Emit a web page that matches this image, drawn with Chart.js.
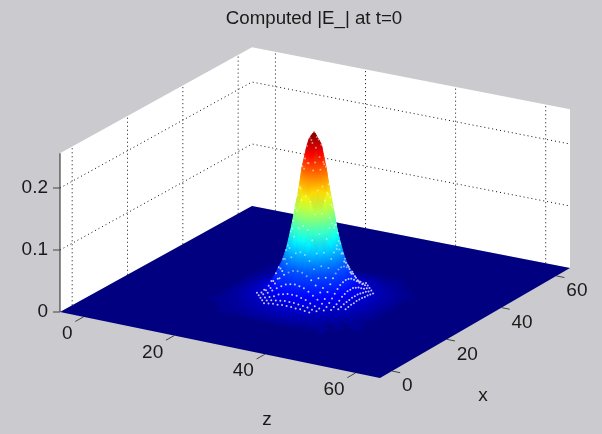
<!DOCTYPE html>
<html>
<head>
<meta charset="utf-8">
<script src="https://cdn.jsdelivr.net/npm/chart.js@4"></script>
<style>
  body { margin: 0; background: #cbcbcf; }
  canvas { display: block; filter: blur(0.4px); }
</style>
</head>
<body>
<canvas id="chart" width="602" height="434"></canvas>
<script>
const zTicks = [0, 20, 40, 60];
const xTicks = [0, 20, 40, 60];
const eTicks = [0, 0.1, 0.2];
const tickLabelsE = ["0", "0.1", "0.2"];

// peak position and |E|, one quadrant (the bump looks symmetric)
const peakX = 27.5;
const peakZ = 31.5;
const offsets = [0, 1, 2, 3, 4, 5, 6, 7, 8, 9, 10, 12, 14, 17];
const quadrant = [
  [.266, .255, .220, .170, .124, .084, .056, .037, .023, .014, .010, .005, .002, 0],
  [.255, .244, .210, .162, .119, .081, .055, .036, .023, .014, .010, .005, .002, 0],
  [.220, .210, .179, .143, .104, .073, .051, .034, .021, .013, .009, .005, .002, 0],
  [.170, .162, .143, .113, .084, .061, .046, .030, .019, .012, .009, .004, .002, 0],
  [.124, .119, .104, .084, .065, .048, .039, .025, .015, .011, .008, .004, .002, 0],
  [.084, .081, .073, .061, .048, .034, .029, .020, .012, .009, .007, .004, .002, 0],
  [.056, .055, .051, .046, .039, .029, .020, .015, .010, .008, .006, .003, .001, 0],
  [.037, .036, .034, .030, .025, .020, .015, .011, .008, .006, .005, .003, .001, 0],
  [.023, .023, .021, .019, .015, .012, .010, .008, .006, .005, .004, .002, .001, 0],
  [.014, .014, .013, .012, .011, .009, .008, .006, .005, .004, .003, .002, .001, 0],
  [.010, .010, .009, .009, .008, .007, .006, .005, .004, .003, .002, .001, .001, 0],
  [.005, .005, .005, .004, .004, .004, .003, .003, .002, .002, .001, .001, 0, 0],
  [.002, .002, .002, .002, .002, .002, .001, .001, .001, .001, .001, 0, 0, 0],
  [0, 0, 0, 0, 0, 0, 0, 0, 0, 0, 0, 0, 0, 0],
];

const zMin = -5.2, zMax = 65.4;
const xMin = -4.4, xMax = 65;
const eMax = 0.256;
const pxPerE = 620;
const corners = { a: [60, 312], b: [380, 378], c: [570, 268], d: [252, 206] };

const canvas = document.getElementById("chart");
const ctx2d = canvas.getContext("2d");

// 3d view -> flat chart coordinates
function project(x, z, e) {
  const u = (z - zMin) / (zMax - zMin);
  const v = (x - xMin) / (xMax - xMin);
  const { a, b, c, d } = corners;
  const px = (1 - u) * (1 - v) * a[0] + u * (1 - v) * b[0] + u * v * c[0] + (1 - u) * v * d[0];
  const py = (1 - u) * (1 - v) * a[1] + u * (1 - v) * b[1] + u * v * c[1] + (1 - u) * v * d[1];
  return { x: px, y: py - e * pxPerE };
}

function jet(f) {
  const ramp = (t) => Math.round(255 * Math.max(0, Math.min(1, t)));
  return `rgb(${ramp(1.5 - Math.abs(4 * f - 3))},${ramp(1.5 - Math.abs(4 * f - 2))},${ramp(1.5 - Math.abs(4 * f - 1))})`;
}

// the foot of the bump glows brighter than its height alone would give
function colorOf(e) {
  const f = e / quadrant[0][0];
  return jet(f < 0.2 ? 0.2 * Math.pow(f / 0.2, 0.55) : f);
}

function shape(points, color, width) {
  return { data: points.concat([points[0]]), fill: "shape", backgroundColor: color, borderColor: color, borderWidth: width || 0, pointRadius: 0 };
}

function line(points, color, width, dash) {
  return { data: points, fill: false, borderColor: color, borderWidth: width, borderDash: dash || [], pointRadius: 0 };
}

// signed grid: -17 ... 0 ... 17
const signed = offsets.slice(1).reverse().map((o) => -o).concat(offsets);
const valueAt = (dx, dz) => quadrant[offsets.indexOf(Math.abs(dx))][offsets.indexOf(Math.abs(dz))];

const layers = [];

// back walls
layers.push(shape([project(xMin, zMin, 0), project(xMax, zMin, 0), project(xMax, zMin, eMax), project(xMin, zMin, eMax)], "#ffffff"));
layers.push(shape([project(xMax, zMin, 0), project(xMax, zMax, 0), project(xMax, zMax, eMax), project(xMax, zMin, eMax)], "#ffffff"));

// dotted grid on the walls
xTicks.forEach((t) => layers.push(line([project(t, zMin, 0), project(t, zMin, eMax)], "#111", 1, [1, 3])));
zTicks.forEach((t) => layers.push(line([project(xMax, t, 0), project(xMax, t, eMax)], "#111", 1, [1, 3])));
eTicks.slice(1).forEach((t) => layers.push(line([project(xMin, zMin, t), project(xMax, zMin, t), project(xMax, zMax, t)], "#111", 1, [1, 3])));

// axis lines and ticks
layers.push(line([project(xMin, zMin, 0), project(xMin, zMin, eMax)], "#222", 1));
eTicks.forEach((t) => {
  const p = project(xMin, zMin, t);
  layers.push(line([p, { x: p.x - 7, y: p.y }], "#444", 1));
});
zTicks.forEach((t) => layers.push(line([project(xMin, t, 0), project(xMin - 3, t, 0)], "#444", 1)));
xTicks.forEach((t) => layers.push(line([project(t, zMax, 0), project(t, zMax + 1.8, 0)], "#444", 1)));

// flat floor
layers.push(shape([project(xMin, zMin, 0), project(xMin, zMax, 0), project(xMax, zMax, 0), project(xMax, zMin, 0)], jet(0)));

// surface cells, far ones first
const cells = [];
for (let i = 0; i < signed.length - 1; i++) {
  for (let j = 0; j < signed.length - 1; j++) {
    cells.push([i, j]);
  }
}
cells.sort((p, q) => (q[0] - q[1]) - (p[0] - p[1]));
cells.forEach(([i, j]) => {
  const corner = [[i, j], [i + 1, j], [i + 1, j + 1], [i, j + 1]].map(([a, b]) => ({ dx: signed[a], dz: signed[b] }));
  const values = corner.map((c) => valueAt(c.dx, c.dz));
  const pts = corner.map((c, k) => project(peakX + c.dx, peakZ + c.dz, values[k]));
  const lo = values.indexOf(Math.min(...values));
  const hi = values.indexOf(Math.max(...values));
  // smooth colour across the cell, from its lowest corner to its highest
  const fillColor = ctx2d.createLinearGradient(pts[lo].x, pts[lo].y, pts[hi].x, pts[hi].y + 0.01);
  fillColor.addColorStop(0, colorOf(values[lo]));
  fillColor.addColorStop(0.5, colorOf((values[lo] + values[hi]) / 2));
  fillColor.addColorStop(1, colorOf(values[hi]));
  layers.push(shape(pts, fillColor, 0.6));
});

// white specks where the mesh shows through
const specks = [];
const speckColors = [];
signed.forEach((dx) => {
  signed.forEach((dz) => {
    if (dx * dx + dz * dz <= 125 && dz - dx >= -3) {
      const e = valueAt(dx, dz);
      specks.push(project(peakX + dx, peakZ + dz, e));
      speckColors.push(e > 0.05 ? "rgba(255,255,255,0.5)" : "rgba(235,235,245,0.85)");
    }
  });
});
layers.push({ data: specks, showLine: false, pointRadius: 1, pointBorderWidth: 0, pointBackgroundColor: speckColors });

// chart.js paints dataset 0 last
const datasets = layers.reverse();

const axisText = {
  id: "axisText",
  afterDatasetsDraw(chart) {
    const { ctx, scales } = chart;
    const put = (text, p, dx, dy, align) => {
      ctx.textAlign = align;
      ctx.fillText(text, scales.x.getPixelForValue(p.x) + dx, scales.y.getPixelForValue(p.y) + dy);
    };
    ctx.save();
    ctx.fillStyle = "#1a1a1a";
    ctx.font = '19px "Liberation Sans"';
    ctx.textBaseline = "middle";
    zTicks.forEach((t) => put(String(t), project(xMin, t, 0), -11, 17, "right"));
    xTicks.forEach((t) => put(String(t), project(t, zMax, 0), 10, 15, "left"));
    eTicks.forEach((t, i) => put(tickLabelsE[i], project(xMin, zMin, t), -12, 0, "right"));
    put("x", { x: 483, y: 396 }, 0, 0, "center");
    put("z", { x: 267, y: 420 }, 0, 0, "center");
    ctx.restore();
  },
};

new Chart(canvas, {
  type: "line",
  data: { datasets: datasets },
  plugins: [axisText],
  options: {
    responsive: false,
    animation: false,
    events: [],
    layout: { padding: { left: 26 }, autoPadding: false },
    elements: { line: { tension: 0 } },
    scales: {
      x: { type: "linear", min: 26, max: 602, display: false },
      y: { type: "linear", min: 40, max: 434, reverse: true, display: false },
    },
    plugins: {
      legend: { display: false },
      tooltip: { enabled: false },
      title: {
        display: true,
        fullSize: false,
        text: "Computed |E_| at t=0",
        color: "#1a1a1a",
        font: { family: "Liberation Sans", size: 18.7, weight: "normal", lineHeight: 1 },
        padding: { top: 10, bottom: 11.3 },
      },
    },
  },
});
</script>
</body>
</html>
